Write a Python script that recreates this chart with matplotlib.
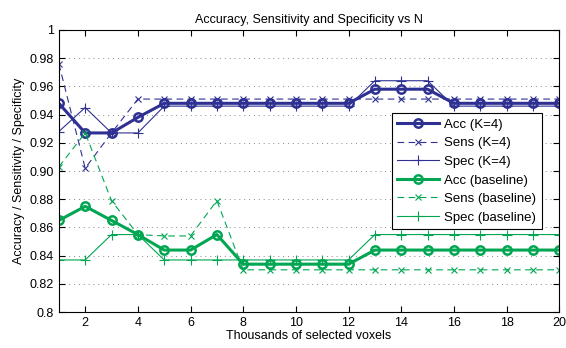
import numpy as np
import matplotlib.pyplot as plt

plt.rcParams['font.family'] = ['Liberation Sans', 'DejaVu Sans']

# Thousands of selected voxels
n_voxels = list(range(1, 21))

# K=4 classifier
acc_k4 = [0.948, 0.927, 0.927, 0.938] + [0.948] * 8 + [0.958] * 3 + [0.948] * 5
sens_k4 = [0.976, 0.902, 0.927, 0.951] + [0.951] * 8 + [0.951] * 3 + [0.951] * 5
spec_k4 = [0.928, 0.945, 0.927, 0.927] + [0.946] * 8 + [0.964] * 3 + [0.946] * 5

# baseline
acc_base = [0.865, 0.875, 0.865, 0.855, 0.844, 0.844, 0.855] + [0.834] * 5 + [0.844] * 8
sens_base = [0.903, 0.927, 0.879, 0.855, 0.854, 0.854, 0.879] + [0.830] * 13
spec_base = [0.837, 0.837, 0.855, 0.855] + [0.837] * 8 + [0.855] * 8

blue = '#2E3192'
green = '#00A651'

fig = plt.figure(figsize=(5.66, 3.48), dpi=100)
ax = fig.add_axes([0.104, 0.103, 0.884, 0.811])

ax.plot(n_voxels, acc_k4, '-o', color=blue, lw=2.2, ms=6, mfc='none', mew=1.8, label='Acc (K=4)')
ax.plot(n_voxels, sens_k4, '--x', color=blue, lw=0.8, ms=5, mew=0.8, dashes=(6, 4), label='Sens (K=4)')
ax.plot(n_voxels, spec_k4, '-+', color=blue, lw=0.8, ms=7, mew=0.8, label='Spec (K=4)')
ax.plot(n_voxels, acc_base, '-o', color=green, lw=2.2, ms=6, mfc='none', mew=1.8, label='Acc (baseline)')
ax.plot(n_voxels, sens_base, '--x', color=green, lw=0.8, ms=5, mew=0.8, dashes=(6, 4), label='Sens (baseline)')
ax.plot(n_voxels, spec_base, '-+', color=green, lw=0.8, ms=7, mew=0.8, label='Spec (baseline)')

ax.set_xlim(1, 20)
ax.set_ylim(0.8, 1.0)
ax.set_xticks(range(2, 21, 2))
yt = np.arange(0.8, 1.001, 0.02)
ax.set_yticks(yt)
ax.set_yticklabels(['0.8'] + [f'{v:.2f}' for v in yt[1:-1]] + ['1'])
ax.yaxis.grid(True, linestyle=(0, (1, 4)), color='#888888', lw=0.7)
ax.tick_params(direction='in', top=True, right=True, labelsize=9, length=4)
for s in ax.spines.values():
    s.set_linewidth(0.8)

ax.set_title('Accuracy, Sensitivity and Specificity vs N', fontsize=9, pad=5)
ax.set_xlabel('Thousands of selected voxels', fontsize=9, labelpad=1)
ax.set_ylabel('Accuracy / Sensitivity / Specificity', fontsize=9, labelpad=3)

leg = ax.legend(loc='upper right', bbox_to_anchor=(0.978, 0.728), fontsize=9.5,
                fancybox=False, framealpha=1, edgecolor='black',
                handlelength=3.2, labelspacing=0.48, borderpad=0.4, handletextpad=0.4)
leg.get_frame().set_linewidth(0.8)

fig.savefig('out.png', dpi=100)
